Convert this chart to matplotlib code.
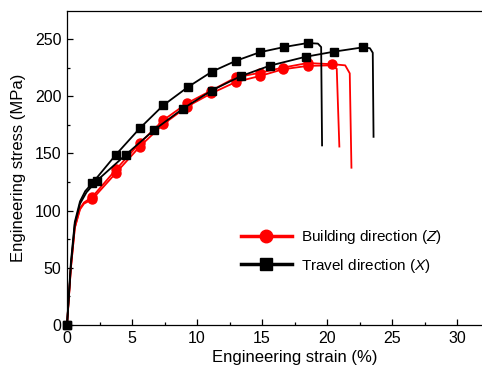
import matplotlib
matplotlib.use("Agg")
import matplotlib.pyplot as plt
from matplotlib.lines import Line2D
from matplotlib.ticker import FixedLocator

plt.rcParams['font.family'] = ['Liberation Sans', 'DejaVu Sans']
plt.rcParams['mathtext.fontset'] = 'custom'
plt.rcParams['mathtext.it'] = 'Liberation Sans:italic'
plt.rcParams['mathtext.rm'] = 'Liberation Sans'

# Travel direction (X), specimen 1
x1_strain = [0, 0.3, 0.6, 1.0, 1.4, 1.95, 3.77, 5.6, 7.4, 9.3, 11.15, 13.0, 14.85, 16.7, 18.5, 19.3, 19.55, 19.62]
x1_stress = [0, 55, 90, 108, 117, 124, 149, 172, 192, 208, 221.5, 231, 238.5, 243, 246.5, 246, 243, 157]
x1_marks = [0, 5, 6, 7, 8, 9, 10, 11, 12, 13, 14]

# Travel direction (X), specimen 2
x2_strain = [0, 0.3, 0.6, 1.0, 1.5, 2.28, 4.54, 6.7, 8.9, 11.13, 13.36, 15.6, 18.36, 20.56, 22.75, 23.3, 23.52, 23.58]
x2_stress = [0, 52, 88, 106, 116, 126, 149, 170.5, 189, 205, 217.5, 226.7, 234.5, 239, 242.7, 242, 238, 164.5]
x2_marks = [0, 5, 6, 7, 8, 9, 10, 11, 12, 13, 14]

# Building direction (Z), specimen 1
z1_strain = [0, 0.3, 0.6, 1.0, 1.3, 1.95, 3.77, 5.6, 7.4, 9.25, 11.1, 13.0, 14.85, 16.6, 18.5, 20.4, 21.4, 21.75, 21.88]
z1_stress = [0, 50, 85, 102, 107, 112, 136, 159, 179, 194, 205, 216.5, 220.5, 225, 229, 228, 227, 220, 137.5]
z1_marks = [5, 6, 7, 8, 9, 10, 11, 12, 13, 14, 15]

# Building direction (Z), specimen 2
z2_strain = [0, 0.3, 0.6, 1.0, 1.3, 1.95, 3.77, 5.6, 7.4, 9.25, 11.1, 13.0, 14.85, 16.6, 18.5, 20.3, 20.75, 20.95]
z2_stress = [0, 50, 85, 101, 106, 110, 133, 156, 175.5, 191, 202.5, 212.5, 217.7, 223.5, 226.5, 227, 224, 156]
z2_marks = [5, 6, 7, 8, 9, 10, 11, 12, 13, 14]

x_ticks = [0, 5, 10, 15, 20, 25, 30]
x_minor = [2.5, 7.5, 12.5, 17.5, 22.5, 27.5, 32.5]
y_ticks = [0, 50, 100, 150, 200, 250]
y_minor = [25, 75, 125, 175, 225]

legend_labels = ['Building direction ($\\mathit{Z}$)', 'Travel direction ($\\mathit{X}$)']

fig = plt.figure(figsize=(4.82, 3.71), dpi=100)
ax = fig.add_axes([67/482, 1-325/371, 455/482, (325-11)/371])

red = '#ff0000'
for s, t, m in [(z2_strain, z2_stress, z2_marks), (z1_strain, z1_stress, z1_marks)]:
    ax.plot(s, t, color=red, lw=1.3, marker='o', ms=6.5, markevery=m, clip_on=False)
for s, t, m in [(x2_strain, x2_stress, x2_marks), (x1_strain, x1_stress, x1_marks)]:
    ax.plot(s, t, color='black', lw=1.3, marker='s', ms=5.5, markevery=m, clip_on=False, zorder=3)

ax.set_xlim(0, 35)
ax.set_ylim(0, 274.5)
ax.xaxis.set_major_locator(FixedLocator(x_ticks))
ax.xaxis.set_minor_locator(FixedLocator(x_minor))
ax.yaxis.set_major_locator(FixedLocator(y_ticks))
ax.yaxis.set_minor_locator(FixedLocator(y_minor))
ax.tick_params(which='both', direction='in', labelsize=11.5, top=False, right=False)
ax.tick_params(which='major', length=4, width=0.9)
ax.tick_params(which='minor', length=2.5, width=0.9)
ax.tick_params(axis='y', pad=4)
ax.tick_params(axis='x', pad=4)
for sp in ax.spines.values():
    sp.set_linewidth(0.9)

ax.set_xlabel('Engineering strain (%)', fontsize=12, labelpad=3)
ax.set_ylabel('Engineering stress (MPa)', fontsize=12, labelpad=6)

handles = [Line2D([], [], color=red, lw=2.5, marker='o', ms=9),
           Line2D([], [], color='black', lw=2.5, marker='s', ms=8)]
ax.legend(handles, legend_labels, loc='upper left', bbox_to_anchor=((235-67)/455, (325-222)/314),
          frameon=False, fontsize=11, handlelength=3.3, handletextpad=0.6, labelspacing=0.7,
          borderaxespad=0)

fig.savefig('out.png', dpi=100)
